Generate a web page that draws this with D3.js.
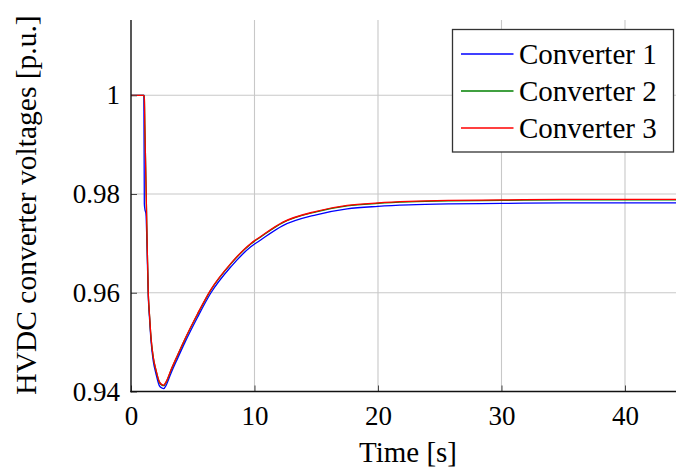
<!DOCTYPE html>
<html>
<head>
<meta charset="utf-8">
<title>HVDC converter voltages</title>
<script src="https://cdn.jsdelivr.net/npm/d3@7"></script>
<style>
  body { margin: 0; background: #fff; }
  svg text { font-family: "Liberation Serif", "DejaVu Serif", serif; fill: #000; }
</style>
</head>
<body>
<div id="vis"></div>
<script type="text/javascript">
// data
var time = [0, 1.0, 1.04, 1.08, 1.12, 1.21, 1.3, 1.4, 1.5, 1.62, 1.8, 2.02, 2.29, 2.5, 2.65, 2.85, 3.24, 3.7, 4.32, 5.4, 6.45, 8.1, 9.7, 10.5, 12.3, 15, 17.5, 20, 22.5, 25.8, 30, 35, 40, 45];
var conv1 = [1, 1, 1, 0.978, 0.977, 0.976, 0.969, 0.9592, 0.9548, 0.9503, 0.9462, 0.9436, 0.9412, 0.9407, 0.9406, 0.9413, 0.9437, 0.9463, 0.9497, 0.9551, 0.9599, 0.9653, 0.9693, 0.9707, 0.9736, 0.9758, 0.9770, 0.9775, 0.9778, 0.9780, 0.9781, 0.9782, 0.9782, 0.9782];
var conv2 = [1, 1, 1, 0.9995, 0.994, 0.9828, 0.9709, 0.9598, 0.9554, 0.9509, 0.9469, 0.9443, 0.9419, 0.9413, 0.9412, 0.9419, 0.9443, 0.9469, 0.9503, 0.9557, 0.9605, 0.9659, 0.9699, 0.9713, 0.9742, 0.9764, 0.9776, 0.9781, 0.9784, 0.9786, 0.9787, 0.9788, 0.9788, 0.9788];
var conv3 = [1, 1, 1, 0.9995, 0.994, 0.9828, 0.971, 0.9599, 0.9555, 0.951, 0.947, 0.9444, 0.9420, 0.9414, 0.9413, 0.9420, 0.9444, 0.9470, 0.9504, 0.9558, 0.9606, 0.9660, 0.9700, 0.9714, 0.9743, 0.9765, 0.9777, 0.9782, 0.9785, 0.9787, 0.9788, 0.9789, 0.9789, 0.9789];
var seriesNames = ["Converter 1", "Converter 2", "Converter 3"];
var seriesColors = ["#0000ff", "#008000", "#ff0000"];
var xTicks = [0, 10, 20, 30, 40];
var yTicks = [0.94, 0.96, 0.98, 1];

var W = 676, H = 470;
var plot = { left: 131, right: 676, top: 20, bottom: 391.5 };

var svg = d3.select("#vis").append("svg").attr("width", W).attr("height", H);

var x = d3.scaleLinear().domain([0, 44.13]).range([plot.left, plot.right]);
var y = d3.scaleLinear().domain([0.94, 1.01525]).range([plot.bottom, plot.top]);

// grid
var grid = svg.append("g").attr("stroke", "#c8c8c8").attr("stroke-width", 1.1);
grid.selectAll(".gx").data(xTicks.slice(1)).enter().append("line")
  .attr("x1", function(d){ return x(d); }).attr("x2", function(d){ return x(d); })
  .attr("y1", plot.top).attr("y2", plot.bottom);
grid.selectAll(".gy").data(yTicks.slice(1)).enter().append("line")
  .attr("x1", plot.left).attr("x2", plot.right)
  .attr("y1", function(d){ return y(d); }).attr("y2", function(d){ return y(d); });

// curves
var allSeries = [conv1, conv2, conv3];
var line = d3.line()
  .x(function(d){ return x(d[0]); })
  .y(function(d){ return y(d[1]); })
  .curve(d3.curveMonotoneX);
svg.append("defs").append("clipPath").attr("id", "clip")
  .append("rect").attr("x", plot.left).attr("y", plot.top)
  .attr("width", plot.right - plot.left).attr("height", plot.bottom - plot.top + 2);
svg.append("g").attr("clip-path", "url(#clip)")
  .selectAll("path").data(allSeries).enter().append("path")
  .attr("fill", "none")
  .attr("stroke", function(d, i){ return seriesColors[i]; })
  .attr("stroke-width", 1.3)
  .attr("d", function(vals){ return line(time.map(function(t, i){ return [t, vals[i]]; })); });

// axes (ticks pointing inward, like pgfplots)
var xAxis = d3.axisBottom(x).tickValues(xTicks).tickSize(-6).tickPadding(14)
  .tickFormat(d3.format("d"));
var gx = svg.append("g").attr("transform", "translate(0," + plot.bottom + ")").call(xAxis);
gx.select(".domain").remove();
gx.selectAll(".tick line").attr("stroke", "#444").attr("stroke-width", 1);
gx.selectAll("text").attr("font-size", 27).attr("font-family", "Liberation Serif");

var yAxis = d3.axisLeft(y).tickValues(yTicks).tickSize(-6).tickPadding(11)
  .tickFormat(function(d){ return d === 1 ? "1" : d3.format(".2f")(d); });
var gy = svg.append("g").attr("transform", "translate(" + plot.left + ",0)").call(yAxis);
gy.select(".domain").remove();
gy.selectAll(".tick line").attr("stroke", "#444").attr("stroke-width", 1);
gy.selectAll("text").attr("font-size", 27).attr("font-family", "Liberation Serif");

svg.append("line").attr("x1", plot.left).attr("x2", plot.left)
  .attr("y1", plot.top).attr("y2", plot.bottom + 0.7)
  .attr("stroke", "#111").attr("stroke-width", 1.4);
svg.append("line").attr("x1", plot.left - 0.7).attr("x2", plot.right)
  .attr("y1", plot.bottom).attr("y2", plot.bottom)
  .attr("stroke", "#111").attr("stroke-width", 1.4);

// axis labels
svg.append("text").attr("x", 408).attr("y", 462).attr("text-anchor", "middle")
  .attr("font-size", 29).text("Time [s]");
svg.append("text").attr("transform", "translate(36,205) rotate(-90)")
  .attr("text-anchor", "middle").attr("font-size", 29.5)
  .text("HVDC converter voltages [p.u.]");

// legend
var legend = svg.append("g");
legend.append("rect").attr("x", 452.5).attr("y", 29.5).attr("width", 221).attr("height", 122.5)
  .attr("fill", "#fff").attr("stroke", "#333").attr("stroke-width", 1.3);
var rows = legend.selectAll(".row").data(seriesNames).enter().append("g")
  .attr("transform", function(d, i){ return "translate(0," + (54 + i * 37) + ")"; });
rows.append("line").attr("x1", 461).attr("x2", 513.5).attr("y1", 0).attr("y2", 0)
  .attr("stroke", function(d, i){ return seriesColors[i]; }).attr("stroke-width", 1.3);
rows.append("text").attr("x", 519).attr("y", 9.5).attr("font-size", 29)
  .text(function(d){ return d; });
</script>
</body>
</html>
